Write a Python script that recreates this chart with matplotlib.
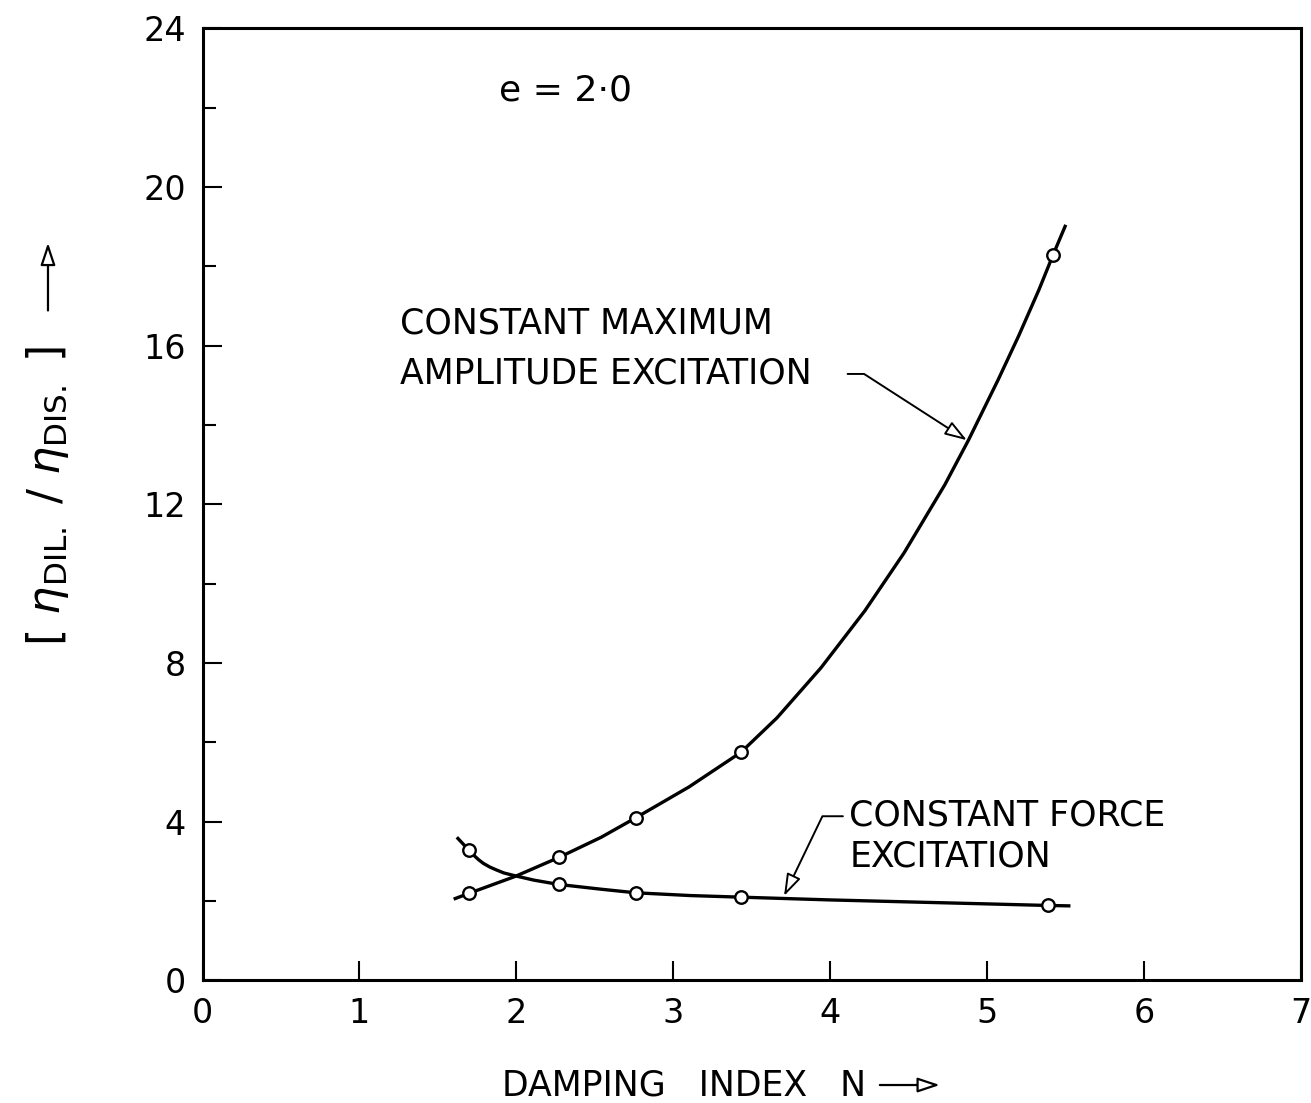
import matplotlib.pyplot as plt
from matplotlib.patches import FancyArrowPatch
from matplotlib.ticker import MultipleLocator

plt.rcParams['font.family'] = ['DejaVu Sans']
plt.rcParams['mathtext.fontset'] = 'dejavusans'

# measured points
n_points = [1.70, 2.27, 2.76, 3.43, 5.42]
amp_points = [2.2, 3.1, 4.1, 5.75, 18.3]
force_n = [1.70, 2.27, 2.76, 3.43, 5.39]
force_points = [3.28, 2.42, 2.21, 2.10, 1.89]

# faired curves drawn through the points
amp_curve_n = [1.60, 1.70, 1.99, 2.27, 2.54, 2.76, 3.10, 3.43, 3.66, 3.94,
               4.22, 4.47, 4.73, 4.88, 5.07, 5.20, 5.33, 5.42, 5.50]
amp_curve = [2.05, 2.2, 2.62, 3.1, 3.61, 4.1, 4.88, 5.75, 6.62, 7.88,
             9.32, 10.78, 12.5, 13.62, 15.15, 16.25, 17.42, 18.3, 19.05]
force_curve_n = [1.62, 1.67, 1.70, 1.73, 1.76, 1.79, 1.83, 1.87, 1.92, 1.99,
                 2.11, 2.27, 2.54, 2.76, 3.11, 3.43, 4.0, 4.5, 5.0, 5.39, 5.53]
force_curve = [3.61, 3.40, 3.28, 3.15, 3.04, 2.95, 2.86, 2.79, 2.71, 2.64,
               2.53, 2.42, 2.30, 2.21, 2.14, 2.10, 2.03, 1.98, 1.93, 1.89, 1.88]

x_ticks = [0, 1, 2, 3, 4, 5, 6, 7]
y_ticks = [0, 4, 8, 12, 16, 20, 24]

fig = plt.figure(figsize=(13.11, 11.03), dpi=100)
ax = fig.add_axes([0.1545, 0.1111, 0.838, 0.8631])

ax.plot(amp_curve_n, amp_curve, color="black", lw=2.4, solid_capstyle="butt")
ax.plot(force_curve_n, force_curve, color="black", lw=2.4, solid_capstyle="butt")
for xs, ys in [(n_points, amp_points), (force_n, force_points)]:
    ax.plot(xs, ys, "o", ms=9, mfc="white", mec="black", mew=1.7, zorder=3)

ax.set_xlim(0, 7)
ax.set_ylim(0, 24)
ax.set_xticks(x_ticks)
ax.set_yticks(y_ticks)
ax.yaxis.set_minor_locator(MultipleLocator(2))
ax.tick_params(axis="both", which="major", direction="in", length=14, width=1.5,
               labelsize=24, pad=12)
ax.tick_params(axis="y", which="minor", direction="in", length=9, width=1.5)
for sp in ax.spines.values():
    sp.set_linewidth(2.2)

ax.text(1.89, 22.43, "e = 2\u00b70", fontsize=26, va="center", ha="left")
ax.text(1.26, 16.55, "CONSTANT MAXIMUM", fontsize=25, va="center", ha="left")
ax.text(1.26, 15.3, "AMPLITUDE EXCITATION", fontsize=25, va="center", ha="left")
ax.text(4.12, 4.16, "CONSTANT FORCE", fontsize=25, va="center", ha="left")
ax.text(4.12, 3.13, "EXCITATION", fontsize=25, va="center", ha="left")

head = "-|>,head_length=0.45,head_width=0.15"
ax.annotate("", xy=(4.87, 13.62), xytext=(4.11, 15.29),
            arrowprops=dict(arrowstyle=head, mutation_scale=30,
                            connectionstyle="angle,angleA=0,angleB=-32.8,rad=0",
                            shrinkA=0, shrinkB=0, fc="white", ec="black", lw=1.4))
ax.annotate("", xy=(3.705, 2.13), xytext=(4.08, 4.14),
            arrowprops=dict(arrowstyle=head, mutation_scale=30,
                            connectionstyle="angle,angleA=0,angleB=64.3,rad=0",
                            shrinkA=0, shrinkB=0, fc="white", ec="black", lw=1.4))

# axis titles with their direction arrows
fig.text(0.383, 0.0163, "DAMPING   INDEX   N", fontsize=25, va="center", ha="left")
fig.text(0.0366, 0.55,
         r"$\left[\ \eta_{\mathrm{DIL.}}\ \middle/\ \eta_{\mathrm{DIS.}}\ \right]$",
         fontsize=32, rotation=90, va="center", ha="center")
for start, end in [((0.669, 0.0163), (0.719, 0.0163)),
                   ((0.0366, 0.716), (0.0366, 0.7824))]:
    fig.add_artist(FancyArrowPatch(start, end, transform=fig.transFigure,
                                   arrowstyle=head, mutation_scale=30,
                                   fc="white", ec="black", lw=1.6))

fig.savefig("out.png", dpi=100)
